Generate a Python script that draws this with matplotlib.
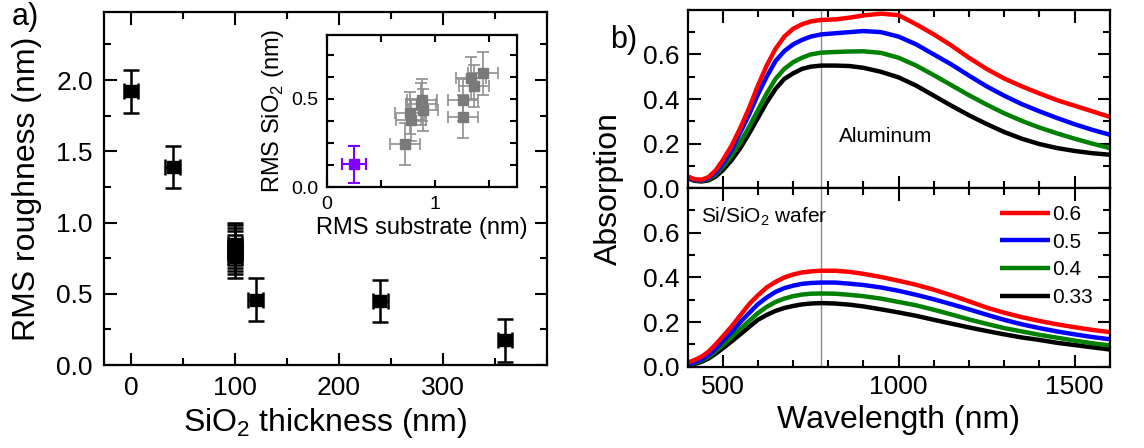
import matplotlib
matplotlib.use("Agg")
import matplotlib.pyplot as plt
from matplotlib.ticker import MultipleLocator

plt.rcParams['font.family'] = ['Liberation Sans', 'DejaVu Sans']
plt.rcParams['mathtext.fontset'] = 'custom'
plt.rcParams['mathtext.rm'] = 'Liberation Sans'

# panel a: roughness vs oxide thickness
thickness = [0, 40, 100, 100, 100, 100, 100, 120, 240, 360]
rms = [1.92, 1.39, 0.76, 0.79, 0.81, 0.83, 0.85, 0.46, 0.45, 0.175]
rms_err = [0.15] * len(rms)
thick_err = [7] * len(thickness)

# inset: SiO2 roughness vs substrate roughness
sub_rms = [0.72, 0.77, 0.78, 0.87, 0.88, 0.89, 1.26, 1.26, 1.33, 1.36, 1.44]
sio2_rms = [0.245, 0.42, 0.38, 0.47, 0.494, 0.438, 0.494, 0.40, 0.617, 0.574, 0.645]
sub_err = [0.14] * len(sub_rms)
sio2_err = [0.12] * len(sio2_rms)
bare_sub, bare_sio2 = [0.25], [0.13]

# panel b: absorption spectra
wl = [400, 420, 440, 460, 480, 500, 525, 550, 575, 600, 625, 650, 675, 700, 725, 750,
      780, 820, 860, 900, 950, 1000, 1050, 1100, 1150, 1200, 1250, 1300, 1350, 1400,
      1450, 1500, 1550, 1600]
labels = ['0.6', '0.5', '0.4', '0.33']
colors = ['#ff0000', '#0000ff', '#008000', '#000000']
al_abs = [
    [0.053, 0.04, 0.038, 0.05, 0.08, 0.125, 0.19, 0.27, 0.36, 0.46, 0.55, 0.625, 0.68, 0.715, 0.735, 0.748,
     0.755, 0.757, 0.765, 0.775, 0.783, 0.776, 0.735, 0.69, 0.64, 0.585, 0.535, 0.492, 0.457, 0.425,
     0.395, 0.37, 0.345, 0.32],
    [0.05, 0.037, 0.035, 0.045, 0.07, 0.11, 0.17, 0.25, 0.33, 0.42, 0.50, 0.57, 0.615, 0.645, 0.665, 0.68,
     0.69, 0.695, 0.70, 0.705, 0.70, 0.68, 0.645, 0.60, 0.555, 0.505, 0.457, 0.415, 0.377, 0.345,
     0.315, 0.287, 0.262, 0.24],
    [0.05, 0.036, 0.033, 0.04, 0.062, 0.095, 0.145, 0.205, 0.275, 0.35, 0.425, 0.49, 0.535, 0.565, 0.585, 0.60,
     0.608, 0.611, 0.613, 0.614, 0.607, 0.585, 0.55, 0.507, 0.462, 0.417, 0.375, 0.336, 0.302, 0.272,
     0.246, 0.222, 0.20, 0.18],
    [0.045, 0.033, 0.03, 0.035, 0.052, 0.08, 0.125, 0.18, 0.245, 0.315, 0.385, 0.445, 0.49, 0.515, 0.535, 0.545,
     0.55, 0.55, 0.548, 0.54, 0.522, 0.497, 0.46, 0.415, 0.37, 0.327, 0.288, 0.252, 0.222, 0.198,
     0.18, 0.167, 0.157, 0.15],
]
si_abs = [
    [0.018, 0.03, 0.045, 0.068, 0.10, 0.135, 0.18, 0.23, 0.28, 0.32, 0.355, 0.38, 0.40, 0.413, 0.422, 0.427,
     0.43, 0.43, 0.425, 0.416, 0.402, 0.385, 0.367, 0.345, 0.32, 0.293, 0.265, 0.242, 0.222, 0.205,
     0.19, 0.177, 0.165, 0.155],
    [0.01, 0.02, 0.033, 0.052, 0.08, 0.115, 0.155, 0.20, 0.24, 0.28, 0.31, 0.335, 0.352, 0.363, 0.371, 0.375,
     0.377, 0.377, 0.372, 0.366, 0.355, 0.34, 0.322, 0.302, 0.28, 0.257, 0.233, 0.21, 0.19, 0.173,
     0.158, 0.145, 0.133, 0.123],
    [0.008, 0.017, 0.028, 0.045, 0.07, 0.097, 0.133, 0.17, 0.205, 0.24, 0.268, 0.29, 0.305, 0.316, 0.323, 0.327,
     0.328, 0.327, 0.322, 0.316, 0.305, 0.29, 0.275, 0.255, 0.234, 0.212, 0.192, 0.173, 0.158, 0.143,
     0.13, 0.117, 0.105, 0.095],
    [0.005, 0.012, 0.022, 0.037, 0.058, 0.082, 0.113, 0.145, 0.178, 0.21, 0.232, 0.25, 0.263, 0.272, 0.279, 0.283,
     0.285, 0.283, 0.278, 0.27, 0.257, 0.243, 0.228, 0.21, 0.193, 0.176, 0.16, 0.145, 0.131, 0.12,
     0.107, 0.097, 0.087, 0.077],
]
cutoff_wl = 780


def style(ax, size, pad, major=9, minor=5):
    ax.tick_params(which='both', direction='in', top=True, right=True, width=1.5)
    ax.tick_params(which='major', length=major, labelsize=size, pad=pad)
    ax.tick_params(which='minor', length=minor)
    for s in ax.spines.values():
        s.set_linewidth(1.6)


fig = plt.figure(figsize=(11.44, 4.48), dpi=100)

# ---- a)
ax = fig.add_axes([0.0909, 0.185, 0.387, 0.789])
ax.errorbar(thickness, rms, yerr=rms_err, xerr=thick_err, fmt='s', color='black',
            ms=8.5, elinewidth=1.8, capsize=6, capthick=1.8)
ax.set_xlim(-26, 400)
ax.set_ylim(0, 2.48)
ax.set_xticks([0, 100, 200, 300])
ax.xaxis.set_minor_locator(MultipleLocator(50))
ax.set_yticks([0.0, 0.5, 1.0, 1.5, 2.0])
ax.yaxis.set_minor_locator(MultipleLocator(0.25))
ax.yaxis.set_major_formatter('{x:.1f}')
style(ax, 19, 8)
ax.set_xlabel('SiO$_2$ thickness (nm)', fontsize=23, labelpad=4)
ax.set_ylabel('RMS roughness (nm)', fontsize=23)
ax.yaxis.set_label_coords(-0.14, 0.5)
fig.text(0.01, 0.995, 'a)', fontsize=22, va='top', ha='left')

# inset
ins = fig.add_axes([0.2856, 0.5819, 0.1666, 0.34])
ins.errorbar(sub_rms, sio2_rms, xerr=sub_err, yerr=sio2_err, fmt='s', color='#7a7a7a',
             ecolor='#8f8f8f', ms=7, elinewidth=1.2, capsize=4, capthick=1.2)
ins.errorbar(bare_sub, bare_sio2, xerr=[0.11], yerr=[0.105], fmt='s', color='#8000ff',
             ms=7, elinewidth=1.5, capsize=4, capthick=1.5)
ins.set_xlim(0, 1.76)
ins.set_ylim(0, 0.862)
ins.xaxis.set_major_locator(MultipleLocator(1))
ins.xaxis.set_minor_locator(MultipleLocator(0.5))
ins.yaxis.set_major_locator(MultipleLocator(0.5))
ins.yaxis.set_minor_locator(MultipleLocator(0.125))
ins.yaxis.set_major_formatter('{x:.1f}')
style(ins, 14, 6, major=5, minor=5)
ins.set_xlabel('RMS substrate (nm)', fontsize=17, labelpad=3)
ins.set_ylabel('RMS SiO$_2$ (nm)', fontsize=17)

# ---- b)
ax_al = fig.add_axes([0.601, 0.580, 0.369, 0.398])
ax_si = fig.add_axes([0.601, 0.1815, 0.369, 0.3985], sharex=ax_al)

for i in range(len(labels) - 1, -1, -1):
    ax_al.plot(wl, al_abs[i], color=colors[i], lw=3.2, solid_capstyle='butt')
    ax_si.plot(wl, si_abs[i], color=colors[i], lw=3.2, label=labels[i],
               solid_capstyle='butt')

for a in (ax_al, ax_si):
    a.axvline(cutoff_wl, color='#8a8a8a', lw=1, zorder=0)
    a.set_ylim(0, 0.8)
    a.set_yticks([0.0, 0.2, 0.4, 0.6])
    a.yaxis.set_minor_locator(MultipleLocator(0.1))
    a.yaxis.set_major_formatter('{x:.1f}')
    style(a, 19, 6)

ax_al.set_xlim(400, 1600)
ax_al.xaxis.set_major_locator(MultipleLocator(500))
ax_al.xaxis.set_minor_locator(MultipleLocator(100))
ax_al.tick_params(labelbottom=False)

ax_al.text(831, 0.233, 'Aluminum', fontsize=15, va='center', ha='left')
ax_si.text(439, 0.673, 'Si/SiO$_2$ wafer', fontsize=15, va='center', ha='left')

h, l = ax_si.get_legend_handles_labels()
ax_si.legend(h[::-1], l[::-1], loc='upper right', frameon=False, fontsize=15,
             handlelength=2.4, handletextpad=0.1, labelspacing=0.42,
             borderaxespad=0.4, bbox_to_anchor=(1.0, 1.0))

ax_si.set_xlabel('Wavelength (nm)', fontsize=23, labelpad=4)
ax_al.set_ylabel('Absorption', fontsize=23)
ax_al.yaxis.set_label_coords(-0.15, 0.0)
fig.text(0.533, 0.91, 'b)', fontsize=22, va='center', ha='left')

fig.savefig('out.png', dpi=100)
